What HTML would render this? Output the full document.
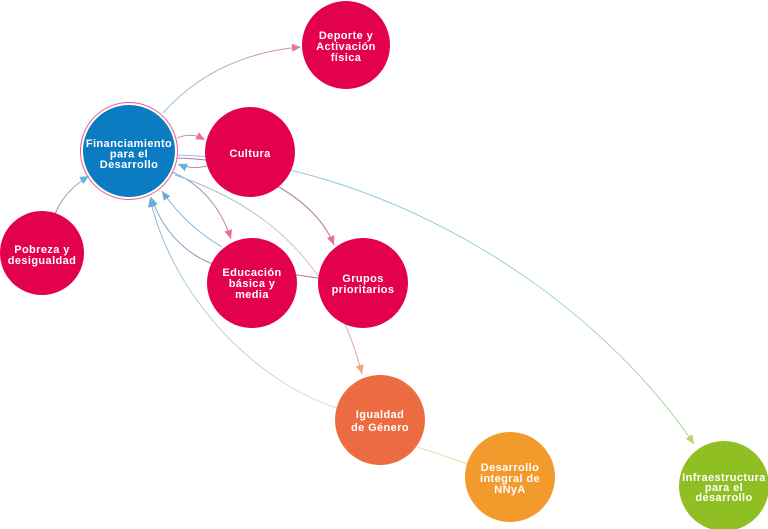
<!DOCTYPE html>
<html><head><meta charset="utf-8"><style>
html,body{margin:0;padding:0;background:#fff;}
svg{display:block;}
text{font-family:"Liberation Sans",sans-serif;font-weight:bold;font-size:11px;fill:#fff;text-anchor:middle;letter-spacing:0.4px;}
</style></head><body>
<svg width="768" height="529" viewBox="0 0 768 529" xmlns="http://www.w3.org/2000/svg">
<defs>
<linearGradient id="gDep" gradientUnits="userSpaceOnUse" x1="163" y1="113" x2="300" y2="47"><stop offset="0" stop-color="#8cc6e2"/><stop offset="1" stop-color="#d98aa8"/></linearGradient>
<linearGradient id="gInf" gradientUnits="userSpaceOnUse" x1="177" y1="155" x2="694" y2="444"><stop offset="0" stop-color="#8cc3e2"/><stop offset="0.7" stop-color="#9ad5dc"/><stop offset="1" stop-color="#a9d98c"/></linearGradient>
<linearGradient id="gIg" gradientUnits="userSpaceOnUse" x1="175" y1="175" x2="362" y2="374"><stop offset="0" stop-color="#8cbfe0"/><stop offset="0.5" stop-color="#d8c4b0"/><stop offset="1" stop-color="#f2a283"/></linearGradient>
<linearGradient id="gIgF" gradientUnits="userSpaceOnUse" x1="337" y1="408" x2="150" y2="198"><stop offset="0" stop-color="#e5dcc2"/><stop offset="0.5" stop-color="#b8d4da"/><stop offset="1" stop-color="#7fb9df"/></linearGradient>
<linearGradient id="gPob" gradientUnits="userSpaceOnUse" x1="55" y1="214" x2="89" y2="176"><stop offset="0" stop-color="#c9708f"/><stop offset="1" stop-color="#7fb6dc"/></linearGradient>
<linearGradient id="gGF" gradientUnits="userSpaceOnUse" x1="318" y1="278" x2="151" y2="197"><stop offset="0" stop-color="#b07593"/><stop offset="1" stop-color="#7fa8cf"/></linearGradient>
<linearGradient id="gEd" gradientUnits="userSpaceOnUse" x1="172" y1="172" x2="231" y2="239"><stop offset="0" stop-color="#8fa6c8"/><stop offset="1" stop-color="#d67c9f"/></linearGradient>
</defs>

<!-- connectors -->
<g fill="none" stroke-width="1">
  <path d="M163,113 Q215,55 300,47" stroke="url(#gDep)"/>
  <path d="M177,138 Q192,132 204,139" stroke="#c48aa6"/>
  <path d="M177,155 C380,160 590,290 694,444" stroke="url(#gInf)"/>
  <path d="M177,158 Q240,160 262,178 Q318,205 334,245" stroke="#b07a98"/>
  <path d="M207,166 Q192,170 179,164" stroke="#a78fb2"/>
  <path d="M172,172 Q215,190 231,239" stroke="url(#gEd)"/>
  <path d="M222,247 Q185,225 162,191" stroke="#86b3d8"/>
  <path d="M318,278 L297,275 L210,263 Q168,245 151,197" stroke="url(#gGF)"/>
  <path d="M175,175 C250,200 330,250 362,374" stroke="url(#gIg)"/>
  <path d="M337,408 C250,380 170,290 150,198" stroke="url(#gIgF)"/>
  <path d="M417,447 Q443,455 467,464" stroke="#f4d6ae"/>
  <path d="M55,214 Q65,190 89,176" stroke="url(#gPob)"/>
</g>

<!-- nodes -->
<circle cx="129" cy="151" r="48.5" fill="#fff" stroke="#ea5b8b" stroke-width="1"/>
<circle cx="129" cy="151" r="46" fill="#0b7cc1"/>
<circle cx="346" cy="45" r="44" fill="#e3004f"/>
<circle cx="250" cy="152" r="45" fill="#e3004f"/>
<circle cx="42" cy="253" r="42" fill="#e3004f"/>
<circle cx="252" cy="283" r="45" fill="#e3004f"/>
<circle cx="363" cy="283" r="45" fill="#e3004f"/>
<circle cx="380" cy="420" r="45" fill="#ec6b41"/>
<circle cx="510" cy="477" r="45" fill="#f29b2c"/>
<circle cx="724" cy="486" r="45" fill="#8fbf22"/>

<!-- arrowheads -->
<polygon points="301,47 292.4,51.8 291.6,43.8" fill="#e07a9e"/>
<polygon points="205,140 195.2,139.3 199,132.3" fill="#ea7199"/>
<polygon points="694,444 685.7,438.7 692.3,434.3" fill="#b7d76a"/>
<polygon points="178,164 187.9,163.8 184.7,171.2" fill="#6aaedb"/>
<polygon points="334,245 327,238.1 334.4,235.1" fill="#ea6f98"/>
<polygon points="231,239 224.4,231.6 232,229.2" fill="#ea6f98"/>
<polygon points="162,191 170.3,196.3 163.7,200.7" fill="#6aaedb"/>
<polygon points="151,197 157.8,204.2 150.2,206.8" fill="#6aaedb"/>
<polygon points="362,374 355.9,366.3 363.7,364.3" fill="#f2a283"/>
<polygon points="150,198 155.8,206 148,207.6" fill="#6aaedb"/>
<polygon points="89,176 83.3,184 79.3,177" fill="#6aaedb"/>

<!-- labels -->
<text x="129" y="147">Financiamiento</text>
<text x="129" y="157.5">para el</text>
<text x="129" y="168">Desarrollo</text>

<text x="346" y="39">Deporte y</text>
<text x="346" y="50">Activación</text>
<text x="346" y="61">física</text>

<text x="250" y="157">Cultura</text>

<text x="42" y="253">Pobreza y</text>
<text x="42" y="264">desigualdad</text>

<text x="252" y="276">Educación</text>
<text x="252" y="287">básica y</text>
<text x="252" y="298">media</text>

<text x="363" y="282">Grupos</text>
<text x="363" y="293">prioritarios</text>

<text x="380" y="418">Igualdad</text>
<text x="380" y="431">de Género</text>

<text x="510" y="471">Desarrollo</text>
<text x="510" y="482">integral de</text>
<text x="510" y="493">NNyA</text>

<text x="724" y="481">Infraestructura</text>
<text x="724" y="491">para el</text>
<text x="724" y="501">desarrollo</text>
</svg>
</body></html>
